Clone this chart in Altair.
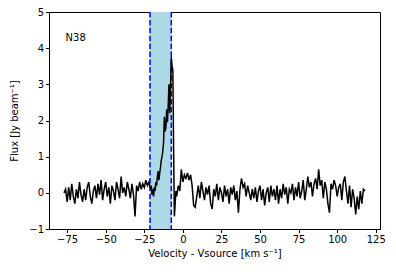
import altair as alt
import pandas as pd

# velocity grid (km/s) of the spectrum pieces
vel_a = list(range(-77, -21))                  # -77 .. -22
vel_b = [-21 + 0.5 * i for i in range(35)]     # -21 .. -4 (finer around the line)
vel_c = list(range(-3, 119))                   # -3 .. 118

flux_a = [0.0, 0.1, -0.25, 0.15, -0.2, 0.25, -0.1, -0.3, 0.1, -0.15,
          0.3, -0.05, -0.25, 0.1, -0.2, 0.15, 0.3, -0.1, -0.3, 0.05,
          0.2, -0.15, 0.25, -0.05, 0.35, -0.2, 0.1, 0.3, -0.1, 0.15,
          -0.3, 0.2, 0.05, -0.2, 0.3, 0.1, -0.15, 0.45, 0.0, 0.15,
          -0.1, 0.3, 0.1, -0.15, 0.25, -0.05, -0.65, 0.2, 0.05, 0.3,
          0.1, 0.25, 0.15, 0.35, 0.2, 0.3]
flux_b = [0.1, 0.2, -0.05, 0.1, -0.1, 0.15, 0.05, 0.3, 0.2, 0.45,
          0.6, 0.35, 0.55, 0.7, 0.9, 1.0, 1.15, 1.4, 2.1, 1.7,
          1.8, 2.3, 1.95, 2.4, 3.0, 2.2, 2.9, 3.75, 3.5, 3.4,
          1.2, -0.65, -0.3, 0.05, -0.1]
flux_c = [0.2, 0.05, 0.65, 0.3, 0.5, 0.4, 0.55, 0.35, 0.5, 0.2,
          -0.35, -0.4, -0.1, 0.2, -0.15, 0.3, 0.05, -0.2, 0.15, -0.05,
          0.2, -0.3, -0.45, 0.1, -0.1, 0.25, -0.2, 0.15, 0.0, -0.25,
          0.2, -0.1, 0.1, -0.3, 0.15, -0.05, 0.2, -0.2, 0.05, -0.55,
          0.1, 0.4, 0.15, 0.25, -0.1, 0.2, 0.0, -0.2, 0.1, -0.15,
          0.15, -0.25, 0.05, 0.2, -0.2, 0.1, -0.35, 0.0, 0.15, -0.25,
          0.2, -0.1, 0.1, -0.2, 0.2, -0.3, 0.1, -0.15, 0.25, -0.05,
          0.15, -0.3, 0.1, 0.0, 0.25, -0.2, 0.15, -0.1, 0.3, -0.15,
          0.05, 0.35, -0.2, 0.1, 0.45, 0.15, 0.3, -0.1, 0.25, 0.4,
          0.1, 0.65, 0.2, 0.35, -0.15, 0.3, 0.1, -0.3, -0.55, 0.25,
          0.1, 0.35, 0.2, -0.1, 0.15, 0.25, -0.2, 0.3, 0.45, 0.05,
          -0.3, 0.2, -0.4, 0.1, -0.15, -0.6, -0.1, -0.45, 0.05, -0.3,
          0.1, 0.05]

region = [-21.3, -7.5]
label_text = "N38"
label_pos = [-76, 4.28]
x_ticks = [-75, -50, -25, 0, 25, 50, 75, 100, 125]
y_ticks = [-1, 0, 1, 2, 3, 4, 5]
x_domain = [-86.75, 127.75]
y_domain = [-1, 5]

spec = pd.DataFrame({"v": vel_a + vel_b + vel_c, "f": flux_a + flux_b + flux_c})
reg = pd.DataFrame({"x1": [region[0]], "x2": [region[1]], "y1": [y_domain[0]], "y2": [y_domain[1]]})
edges = pd.DataFrame({"x": region})
lab = pd.DataFrame({"x": [label_pos[0]], "y": [label_pos[1]], "t": [label_text]})

FONT = "DejaVu Sans"
xs = alt.Scale(domain=x_domain, nice=False, zero=False)
ys = alt.Scale(domain=y_domain, nice=False, zero=False)

xaxis = alt.Axis(values=x_ticks, title="Velocity - Vsource [km s\u207b\u00b9]", grid=False,
                 tickSize=3.5, labelPadding=2, titlePadding=4, format="d", labelOverlap=False)
yaxis = alt.Axis(values=y_ticks, title="Flux [Jy beam\u207b\u00b9]", grid=False,
                 tickSize=3.5, labelPadding=2, titlePadding=9, format="d", labelOverlap=False)

band = alt.Chart(reg).mark_rect(color="#add8e6", opacity=1).encode(
    x=alt.X("x1:Q", scale=xs, axis=xaxis), x2="x2:Q",
    y=alt.Y("y1:Q", scale=ys, axis=yaxis), y2="y2:Q")

rules = alt.Chart(edges).mark_rule(color="blue", strokeWidth=1.5, strokeDash=[5.5, 2.4]).encode(
    x=alt.X("x:Q", scale=xs, axis=xaxis))

line = alt.Chart(spec).mark_line(color="black", strokeWidth=1.5).encode(
    x=alt.X("v:Q", scale=xs, axis=xaxis), y=alt.Y("f:Q", scale=ys, axis=yaxis))

text = alt.Chart(lab).mark_text(align="left", baseline="middle", font=FONT, fontSize=10, color="black").encode(
    x=alt.X("x:Q", scale=xs, axis=xaxis), y=alt.Y("y:Q", scale=ys, axis=yaxis), text="t:N")

chart = alt.layer(band, rules, line, text).properties(
    width=331, height=217,
    autosize=alt.AutoSizeParams(type="none"),
    padding={"left": 41, "top": 4, "right": 7, "bottom": 40},
).configure_view(stroke="black", strokeWidth=1).configure_axis(
    labelFont=FONT, titleFont=FONT, labelFontSize=10, titleFontSize=10,
    labelColor="black", titleColor="black", tickColor="black", domainColor="black",
    titleFontWeight="normal", domainWidth=1, tickWidth=1)

chart.save("out.html", embed_options={"renderer": "svg", "actions": False})
